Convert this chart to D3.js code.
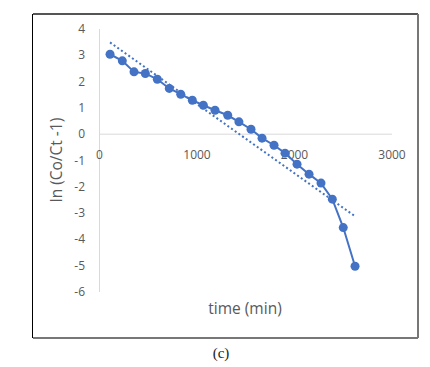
<!DOCTYPE html>
<html>
<head>
<meta charset="utf-8">
<script src="https://cdn.jsdelivr.net/npm/d3@7"></script>
<style>
	body { margin: 0; background: #fff; }
	svg { display: block; }
</style>
</head>
<body>
<script>
// measured points, time (min) vs ln(Co/Ct - 1)
var times = [108, 234, 354, 470, 593, 716, 833, 952, 1065, 1185, 1315, 1430, 1554, 1667, 1790, 1903, 2026, 2149, 2272, 2388, 2500, 2621];
var lnVals = [3.04, 2.79, 2.37, 2.31, 2.09, 1.74, 1.52, 1.29, 1.10, 0.91, 0.72, 0.47, 0.19, -0.15, -0.42, -0.72, -1.14, -1.52, -1.86, -2.47, -3.55, -5.02];
// linear trendline end points
var trendX = [108, 2621];
var trendY = [3.49, -3.12];
var xTicks = [0, 1000, 2000, 3000];
var yTicks = [4, 3, 2, 1, 0, -1, -2, -3, -4, -5, -6];

var w = 430, h = 367;
var blue = '#4472C4';
var grey = '#595959';

var svg = d3.select('body')
	.append('svg')
	.attr('width', w)
	.attr('height', h);

// chart frame
svg.append('line').attr('x1', 33).attr('y1', 14).attr('x2', 418).attr('y2', 14)
	.attr('stroke', '#555').attr('stroke-width', 2);
svg.append('line').attr('x1', 418).attr('y1', 14).attr('x2', 418).attr('y2', 338)
	.attr('stroke', '#777').attr('stroke-width', 2);
svg.append('line').attr('x1', 33).attr('y1', 338).attr('x2', 418).attr('y2', 338)
	.attr('stroke', '#777').attr('stroke-width', 2);
svg.append('line').attr('x1', 32.5).attr('y1', 14).attr('x2', 32.5).attr('y2', 338)
	.attr('stroke', '#000').attr('stroke-width', 1);

var x = d3.scaleLinear().domain([0, 3000]).range([99.5, 392]);
var y = d3.scaleLinear().domain([-6, 4]).range([292, 29]);

// axes
var g = svg.append('g');
g.append('line')
	.attr('x1', x(0)).attr('x2', x(0))
	.attr('y1', y(4)).attr('y2', y(-6))
	.attr('stroke', '#d9d9d9');
g.append('line')
	.attr('x1', x(0)).attr('x2', x(3000))
	.attr('y1', y(0)).attr('y2', y(0))
	.attr('stroke', '#d9d9d9');

g.selectAll('text.yt')
	.data(yTicks)
	.enter()
	.append('text')
	.attr('class', 'yt')
	.attr('x', 85)
	.attr('y', function(d){ return y(d) + 4; })
	.attr('text-anchor', 'end')
	.attr('font-family', 'Open Sans, sans-serif')
	.attr('font-size', 12)
	.attr('fill', grey)
	.text(function(d){ return d; });

g.selectAll('text.xt')
	.data(xTicks)
	.enter()
	.append('text')
	.attr('class', 'xt')
	.attr('x', function(d){ return x(d); })
	.attr('y', y(0) + 25)
	.attr('text-anchor', 'middle')
	.attr('font-family', 'Open Sans, sans-serif')
	.attr('font-size', 12)
	.attr('fill', grey)
	.text(function(d){ return d; });

// titles
svg.append('text')
	.attr('transform', 'translate(62,160) rotate(-90)')
	.attr('text-anchor', 'middle')
	.attr('font-family', 'Open Sans, sans-serif')
	.attr('font-size', 15.5)
	.attr('fill', grey)
	.text('ln (Co/Ct -1)');

svg.append('text')
	.attr('x', 245)
	.attr('y', 314)
	.attr('text-anchor', 'middle')
	.attr('font-family', 'Open Sans, sans-serif')
	.attr('font-size', 15.5)
	.attr('fill', grey)
	.text('time (min)');

svg.append('text')
	.attr('x', 221)
	.attr('y', 358)
	.attr('text-anchor', 'middle')
	.attr('font-family', 'Liberation Serif, serif')
	.attr('font-size', 15)
	.attr('fill', '#222')
	.text('(c)');

// trendline
var trend = trendX.map(function(d, i){ return {x: d, y: trendY[i]}; });
var line = d3.line()
	.x(function(d){ return x(d.x); })
	.y(function(d){ return y(d.y); });

svg.append('path')
	.datum(trend)
	.attr('d', line)
	.attr('fill', 'none')
	.attr('stroke', blue)
	.attr('stroke-width', 2)
	.attr('stroke-dasharray', '2,2.5');

// series
var points = times.map(function(d, i){ return {x: d, y: lnVals[i]}; });

svg.append('path')
	.datum(points)
	.attr('d', line)
	.attr('fill', 'none')
	.attr('stroke', blue)
	.attr('stroke-width', 2);

svg.selectAll('circle')
	.data(points)
	.enter()
	.append('circle')
	.attr('cx', function(d){ return x(d.x); })
	.attr('cy', function(d){ return y(d.y); })
	.attr('r', 4.5)
	.attr('fill', blue);
</script>
</body>
</html>
